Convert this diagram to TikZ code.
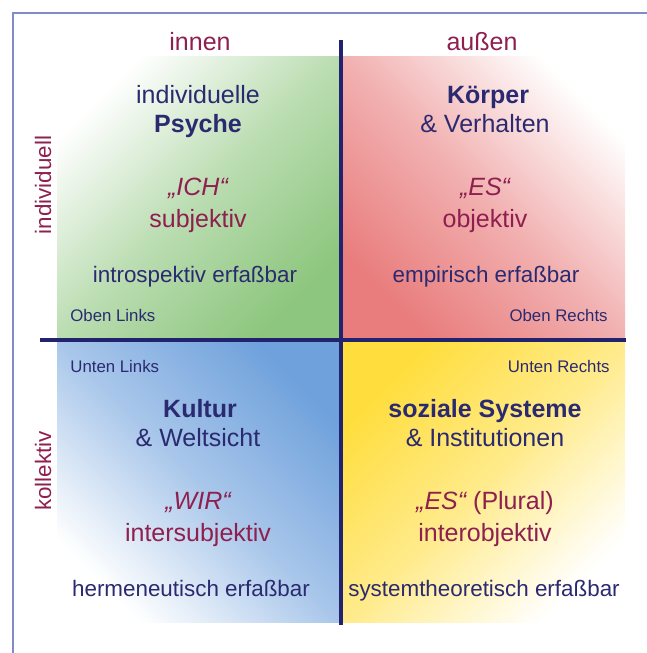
\documentclass[tikz,border=0pt]{standalone}
\usepackage{fontspec}
\setmainfont{Liberation Sans}
\definecolor{navy}{HTML}{2B2A70}
\definecolor{wine}{HTML}{8E1F4F}
\definecolor{framec}{HTML}{7F8BCB}
\definecolor{crossc}{HTML}{22236E}
\definecolor{qgreen}{HTML}{8DC67E}
\definecolor{qred}{HTML}{E97C7C}
\definecolor{qblue}{HTML}{6FA1DC}
\definecolor{qyellow}{HTML}{FFDD3C}
\begin{document}
\begin{tikzpicture}[x=0.5pt, y=-0.5pt,
	line/.style={inner sep=0pt, anchor=base, text=navy, font=\fontsize{12.5}{15}\selectfont},
	bold/.style={line, font=\fontsize{12.5}{15}\selectfont\bfseries},
	quote/.style={line, text=wine},
	access/.style={line, font=\fontsize{11.2}{13}\selectfont},
	corner/.style={line, font=\fontsize{8.4}{10}\selectfont},
	axislabel/.style={inner sep=0pt, text=wine, font=\fontsize{12.5}{15}\selectfont}]
	\useasboundingbox (0,0) rectangle (647,653);
	
	\shade[top color=white, bottom color=qgreen, middle color=qgreen!60, shading angle=45] (57,56) rectangle (340,339);
	\shade[top color=white, bottom color=qred, middle color=qred!60, shading angle=-45] (342,56) rectangle (625,339);
	\shade[top color=qblue, bottom color=white, middle color=qblue!60, shading angle=-45] (57,341) rectangle (340,622);
	\shade[top color=qyellow, bottom color=white, middle color=qyellow!60, shading angle=45] (342,341) rectangle (625,622);
	
	\draw[framec, line width=1.4pt] (13,653) -- (13,13) -- (647,13);
	
	\coordinate (top) at (341,40);
	\coordinate (bottom) at (341,625);
	\coordinate (left) at (40,340);
	\coordinate (right) at (626,340);
	\draw[crossc, line width=1.6pt] (top) -- (bottom);
	\draw[crossc, line width=1.6pt] (left) -- (right);
	
	\node (innen) [axislabel, anchor=base] at (200,50) {innen};
	\node (aussen) [axislabel, anchor=base] at (482,50) {außen};
	\node (indiv) [axislabel, rotate=90, font=\fontsize{11.2}{13}\selectfont] at (43,185) {individuell};
	\node (koll) [axislabel, rotate=90, font=\fontsize{11.2}{13}\selectfont] at (43,471) {kollektiv};
	
	\node (psyA) [line] at (198,103) {individuelle};
	\node (psyB) [bold] at (198,132) {Psyche};
	\node (ich) [quote] at (198,195) {\itshape „ICH“};
	\node (subj) [quote] at (198,227) {subjektiv};
	\node (intro) [access] at (195,282) {introspektiv erfaßbar};
	\node (obenlinks) [corner, anchor=base west] at (70,321) {Oben Links};
	
	\node (koerper) [bold] at (488,103) {Körper};
	\node (verhalten) [line] at (485,132) {\& Verhalten};
	\node (es) [quote] at (485,195) {\itshape „ES“};
	\node (obj) [quote] at (485,227) {objektiv};
	\node (empir) [access] at (486,282) {empirisch erfaßbar};
	\node (obenrechts) [corner, anchor=base east] at (608,321) {Oben Rechts};
	
	\node (untenlinks) [corner, anchor=base west] at (70,372) {Unten Links};
	\node (kultur) [bold] at (200,417) {Kultur};
	\node (welt) [line] at (198,446) {\& Weltsicht};
	\node (wir) [quote] at (198,509) {\itshape „WIR“};
	\node (intersubj) [quote] at (198,541) {intersubjektiv};
	\node (herm) [access] at (191,596) {hermeneutisch erfaßbar};
	
	\node (untenrechts) [corner, anchor=base east] at (610,372) {Unten Rechts};
	\node (sozial) [bold] at (485,417) {soziale Systeme};
	\node (instit) [line] at (485,446) {\& Institutionen};
	\node (esplural) [quote] at (485,509) {{\itshape „ES“} (Plural)};
	\node (interobj) [quote] at (485,541) {interobjektiv};
	\node (system) [access] at (484,596) {systemtheoretisch erfaßbar};
\end{tikzpicture}
\end{document}
